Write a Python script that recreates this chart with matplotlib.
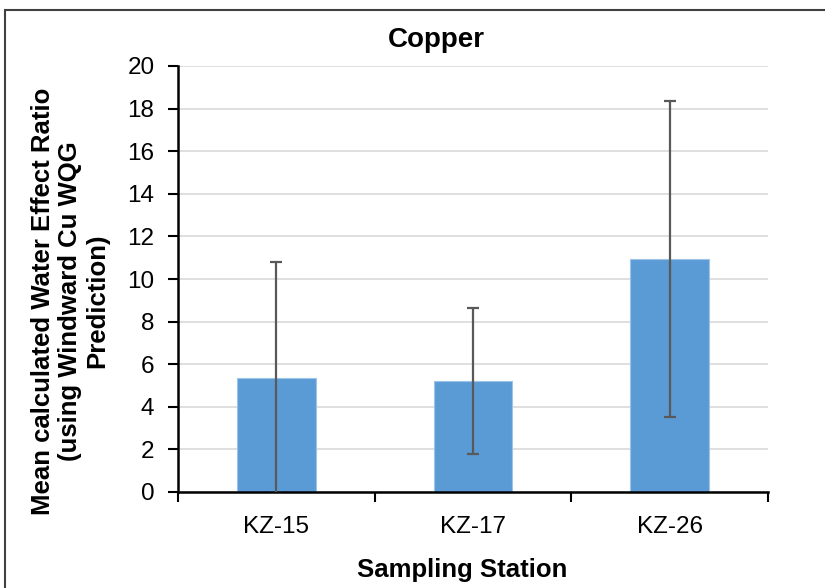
import matplotlib.pyplot as plt
from matplotlib.patches import Rectangle

stations = ['KZ-15', 'KZ-17', 'KZ-26']
mean_wer = [5.35, 5.2, 10.94]
err_wer = [5.45, 3.43, 7.42]

plt.rcParams['font.family'] = ['Liberation Sans', 'DejaVu Sans']

W, H = 825, 588
fig = plt.figure(figsize=(W / 100, H / 100), dpi=100)
ax = fig.add_axes([178 / W, 1 - 492 / H, 590 / W, 426 / H])

# outer chart frame (cropped on right/bottom like the source)
fig.patches.append(Rectangle((5 / W, -0.05), 1.1, 1 - 10 / H + 0.05,
                             transform=fig.transFigure, fill=False,
                             edgecolor='#404040', linewidth=1.5))

x = range(len(stations))
ax.bar(x, mean_wer, width=0.4, color='#5b9bd5', edgecolor='#9dc3e6',
       linewidth=0.8, zorder=2)
ax.errorbar(x, mean_wer, yerr=err_wer, fmt='none', ecolor='#595959',
            elinewidth=1.6, capsize=4.3, capthick=1.6, zorder=3)

ax.set_xlim(-0.5, 2.5)
ax.set_ylim(0, 20)
ax.set_yticks(range(0, 21, 2))
ax.set_xticks(x)
ax.set_xticklabels(stations)
ax.set_xticks([-0.5, 0.5, 1.5, 2.5], minor=True)
ax.tick_params(axis='x', which='major', length=0, labelsize=17.5, pad=17)
ax.tick_params(axis='x', which='minor', length=7, width=1.5, direction='out')
ax.tick_params(axis='y', length=7, width=1.5, labelsize=17.5, pad=10)

ax.grid(axis='y', color='#d9d9d9', linewidth=1.2, zorder=0)
ax.set_axisbelow(True)
for side in ['top', 'right']:
    ax.spines[side].set_visible(False)
for side in ['left', 'bottom']:
    ax.spines[side].set_linewidth(1.8)

fig.text(436 / W, 1 - 40 / H, 'Copper', fontsize=20, fontweight='bold',
         ha='center', va='center')
fig.text(462 / W, 1 - 570 / H, 'Sampling Station', fontsize=18.5,
         fontweight='bold', ha='center', va='center')
fig.text(70 / W, 1 - 301 / H,
         'Mean calculated Water Effect Ratio\n(using Windward Cu WQG\nPrediction)',
         fontsize=18.5, fontweight='bold', rotation=90, ha='center',
         va='center', multialignment='center', linespacing=1.15)

fig.savefig('out.png', dpi=100)
